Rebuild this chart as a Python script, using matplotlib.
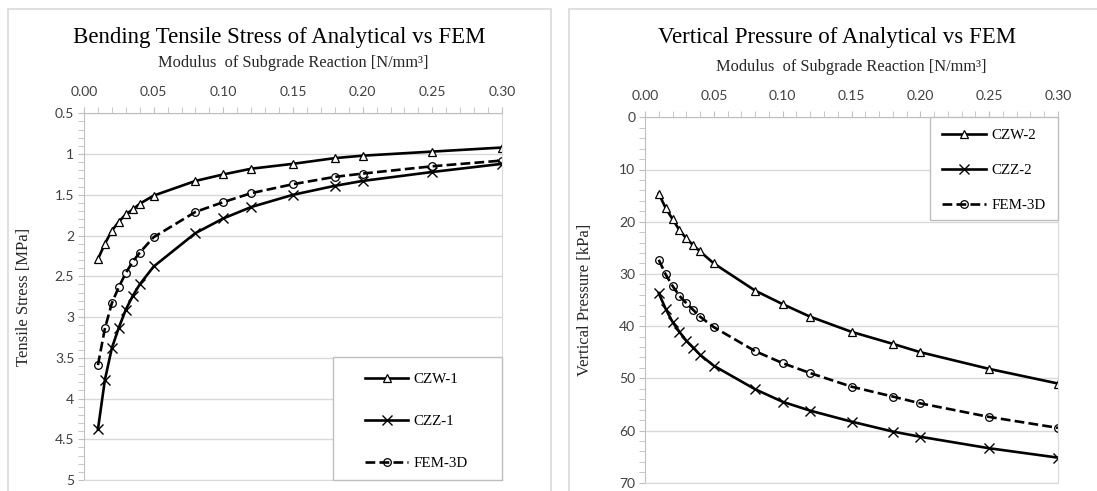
import numpy as np
import matplotlib
matplotlib.use("Agg")
import matplotlib.pyplot as plt
from matplotlib.patches import Rectangle
from matplotlib.ticker import MultipleLocator, FormatStrFormatter

# modulus of subgrade reaction [N/mm3]
k = [0.01, 0.015, 0.02, 0.025, 0.03, 0.035, 0.04, 0.05,
     0.08, 0.10, 0.12, 0.15, 0.18, 0.20, 0.25, 0.30]

# bending tensile stress [MPa]
czw_1 = [2.29, 2.10, 1.94, 1.83, 1.74, 1.68, 1.61, 1.51,
         1.33, 1.25, 1.18, 1.12, 1.05, 1.02, 0.97, 0.92]
czz_1 = [4.38, 3.77, 3.38, 3.13, 2.91, 2.74, 2.60, 2.38,
         1.97, 1.79, 1.65, 1.50, 1.39, 1.33, 1.22, 1.12]
fem_1 = [3.59, 3.14, 2.83, 2.63, 2.46, 2.32, 2.21, 2.02,
         1.71, 1.59, 1.48, 1.37, 1.28, 1.24, 1.15, 1.08]

# vertical pressure [kPa]
czw_2 = [14.6, 17.4, 19.5, 21.6, 23.2, 24.5, 25.7, 28.0,
         33.2, 35.8, 38.2, 41.1, 43.4, 45.0, 48.2, 51.0]
czz_2 = [33.7, 36.7, 39.2, 41.1, 42.8, 44.1, 45.5, 47.6,
         52.1, 54.5, 56.2, 58.3, 60.2, 61.2, 63.4, 65.2]
fem_2 = [27.3, 30.1, 32.3, 34.2, 35.6, 36.9, 38.2, 40.2,
         44.8, 47.1, 49.0, 51.6, 53.5, 54.8, 57.4, 59.5]

W, H = 1097, 491
fig = plt.figure(figsize=(W / 100, H / 100), dpi=100)
serif = "Liberation Serif"
tickfont = "Lato"


def px_rect(x0, y0, x1, y1):
    # pixel box (top-left origin) -> figure fraction rect
    return [x0 / W, 1 - y1 / H, (x1 - x0) / W, (y1 - y0) / H]


# chart frames
for x0, x1 in [(8, 551), (569, 1120)]:
    fig.patches.append(Rectangle((x0 / W, -0.1), (x1 - x0) / W, 1.1 - 8.5 / H,
                                 transform=fig.transFigure, fill=False,
                                 edgecolor="#d9d9d9", lw=1.2))


def setup(ax, ylim, ymaj, ymin, yfmt, ylabel, sub, title, title_x):
    ax.set_xlim(0, 0.30)
    ax.set_ylim(*ylim)
    ax.xaxis.tick_top()
    ax.xaxis.set_major_locator(MultipleLocator(0.05))
    ax.xaxis.set_minor_locator(MultipleLocator(0.01))
    ax.xaxis.set_major_formatter(FormatStrFormatter("%.2f"))
    ax.yaxis.set_major_locator(MultipleLocator(ymaj))
    ax.yaxis.set_minor_locator(MultipleLocator(ymin))
    ax.yaxis.set_major_formatter(yfmt)
    ax.grid(axis="y", color="#d9d9d9", lw=1)
    ax.set_axisbelow(True)
    for s in ["left", "top"]:
        ax.spines[s].set_color("#bfbfbf")
    for s in ["right", "bottom"]:
        ax.spines[s].set_color("#d9d9d9")
    ax.tick_params(which="both", direction="out", color="#bfbfbf", length=4,
                   labelcolor="#404040", labelsize=10)
    ax.tick_params(axis="x", which="both", top=True, bottom=False, pad=7)
    ax.tick_params(axis="y", pad=3)
    for lab in ax.get_xticklabels() + ax.get_yticklabels():
        lab.set_fontfamily(tickfont)
    ax.set_ylabel(ylabel, fontfamily=serif, fontsize=12, color="#262626")
    ax.yaxis.set_label_coords(-0.125, 0.5)
    ax.text(0.5, 1.127, sub, transform=ax.transAxes, ha="center",
            va="baseline", fontfamily=serif, fontsize=11.8, color="#262626")
    fig.text(title_x / W, 1 - 43 / H, title, ha="center", va="baseline",
             fontfamily=serif, fontsize=16.5, color="black")


def legend_box(ax, box, anchor, spacing):
    # white legend panel with gray border, entries placed inside it
    x0, y0, x1, y1 = box
    ax.add_patch(Rectangle((x0, y0), x1 - x0, y1 - y0, transform=ax.transAxes,
                           facecolor="white", edgecolor="#bfbfbf", lw=1,
                           zorder=4, clip_on=False))
    leg = ax.legend(loc="upper left", bbox_to_anchor=anchor, borderaxespad=0,
                    borderpad=0, frameon=False, handlelength=2.9,
                    labelspacing=spacing, handletextpad=0.35,
                    prop={"family": serif, "size": 10.8})
    leg.set_zorder(5)


sub = "Modulus  of Subgrade Reaction [N/mm³]"

ax1 = fig.add_axes(px_rect(84, 113.3, 502, 480))
ax1.plot(k, czw_1, color="black", lw=1.9, marker="^", ms=6, mfc="white",
         mec="black", mew=0.9, label="CZW-1")
ax1.plot(k, czz_1, color="black", lw=1.9, marker="x", ms=7, mew=1.0,
         label="CZZ-1")
ax1.plot(k, fem_1, color="black", lw=1.9, ls="--", marker="o", ms=5.5,
         mfc="none", mec="black", mew=0.9, label="FEM-3D")
setup(ax1, (5, 0.5), 0.5, 0.1, FormatStrFormatter("%g"),
      "Tensile Stress [MPa]", sub,
      "Bending Tensile Stress of Analytical vs FEM", 279)
legend_box(ax1, (0.596, 0.0, 1.0, 0.335), (0.672, 0.292), 1.9)

ax2 = fig.add_axes(px_rect(645, 117.3, 1058, 482.7))
ax2.plot(k, czw_2, color="black", lw=1.9, marker="^", ms=6, mfc="white",
         mec="black", mew=0.9, label="CZW-2")
ax2.plot(k, czz_2, color="black", lw=1.9, marker="x", ms=7, mew=1.0,
         label="CZZ-2")
ax2.plot(k, fem_2, color="black", lw=1.9, ls="--", marker="o", ms=5.5,
         mfc="none", mec="black", mew=0.9, label="FEM-3D")
setup(ax2, (70, 0), 10, 2, FormatStrFormatter("%d"),
      "Vertical Pressure [kPa]", sub,
      "Vertical Pressure of Analytical vs FEM", 837)
legend_box(ax2, (0.689, 0.719, 1.0, 1.0), (0.72, 0.968), 1.42)

fig.savefig("out.png", dpi=100)
